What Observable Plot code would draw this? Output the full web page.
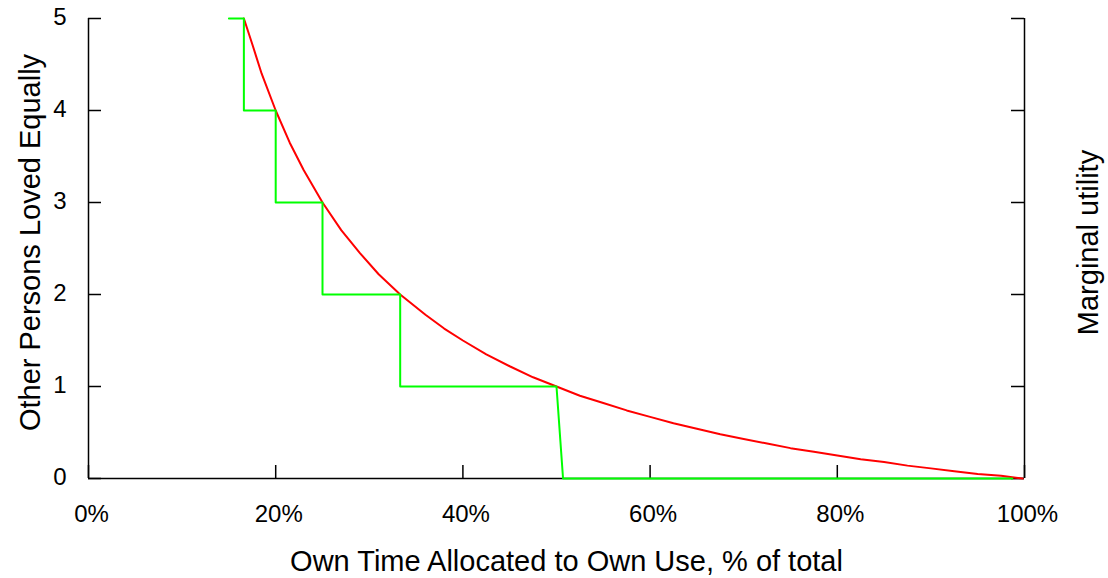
<!DOCTYPE html>
<html>
<head>
<meta charset="utf-8">
<script src="https://cdn.jsdelivr.net/npm/d3@7"></script>
<script src="https://cdn.jsdelivr.net/npm/@observablehq/plot@0.6"></script>
<style>
  html, body { margin: 0; padding: 0; background: #fff; }
</style>
</head>
<body>
<div id="chart"></div>
<script>
const xTicks = [0, 20, 40, 60, 80, 100];
const yTicks = [0, 1, 2, 3, 4, 5];

const redX = [16.6, 17.5, 18.5, 20.0, 21.5, 23.0, 25.0, 27.0, 29.0, 31.0, 33.3, 36.0, 38.0, 40.0, 42.5, 45.0, 47.5, 50.0, 52.5, 55.0, 57.5, 60.0, 62.5, 65.0, 67.5, 70.0, 72.5, 75.0, 77.5, 80.0, 82.5, 85.0, 87.5, 90.0, 92.5, 95.0, 97.5, 99.8];
const redY = [5.0, 4.72, 4.4, 4.0, 3.65, 3.35, 3.0, 2.7, 2.45, 2.22, 2.0, 1.78, 1.63, 1.5, 1.35, 1.22, 1.1, 1.0, 0.9, 0.82, 0.74, 0.67, 0.6, 0.54, 0.48, 0.43, 0.38, 0.33, 0.29, 0.25, 0.21, 0.18, 0.14, 0.11, 0.08, 0.05, 0.03, 0.0];

const greenX = [15, 16.6, 16.6, 20, 20, 25, 25, 33.3, 33.3, 50, 50.7, 98.7];
const greenY = [5, 5, 4, 4, 3, 3, 2, 2, 1, 1, 0, 0];

const xTitle = "Own Time Allocated to Own Use, % of total";
const yTitle = "Other Persons Loved Equally";
const y2Title = "Marginal utility";

const red = redX.map((x, i) => ({x, y: redY[i]}));
const green = greenX.map((x, i) => ({x, y: greenY[i]}));

const W = 1108, H = 578, ML = 88, MR = 84, MT = 18, MB = 100;
const FW = W - ML - MR, FH = H - MT - MB;
const TICK = 13;

const chart = Plot.plot({
  width: W,
  height: H,
  marginLeft: ML,
  marginRight: MR,
  marginTop: MT,
  marginBottom: MB,
  x: {domain: [0, 100], axis: null},
  y: {domain: [0, 5], axis: null},
  style: {fontFamily: "'Liberation Sans', Arial, Helvetica, sans-serif", background: "#fff", color: "#000"},
  marks: [
    Plot.ruleX([0, 100], {x: d => d, stroke: "#000", strokeWidth: 1.5}),
    Plot.ruleY([0], {y: d => d, stroke: "#000", strokeWidth: 1.5}),
    Plot.ruleX(xTicks, {x: d => d, insetTop: FH - TICK, stroke: "#000", strokeWidth: 1.5}),
    Plot.ruleY(yTicks, {y: d => d, insetRight: FW - TICK, stroke: "#000", strokeWidth: 1.5}),
    Plot.ruleY(yTicks, {y: d => d, insetLeft: FW - TICK, stroke: "#000", strokeWidth: 1.5}),
    Plot.line(red, {x: "x", y: "y", stroke: "#ff0000", strokeWidth: 2}),
    Plot.line(green, {x: "x", y: "y", stroke: "#00ff00", strokeWidth: 2}),
    Plot.text(xTicks, {x: d => d, frameAnchor: "bottom", lineAnchor: "middle", textAnchor: "middle", dy: 36, dx: 3, text: d => d + "%", fontSize: 24, fill: "#000"}),
    Plot.text(yTicks, {y: d => d, frameAnchor: "left", lineAnchor: "middle", textAnchor: "end", dx: -22, dy: -1, text: d => String(d), fontSize: 24, fill: "#000"}),
    Plot.text([xTitle], {frameAnchor: "bottom", lineAnchor: "middle", textAnchor: "middle", dy: 83, dx: 10, text: d => d, fontSize: 29, fill: "#000"}),
    Plot.text([yTitle], {frameAnchor: "left", lineAnchor: "middle", textAnchor: "middle", dx: -58, dy: -6, rotate: -90, text: d => d, fontSize: 29, fill: "#000"}),
    Plot.text([y2Title], {frameAnchor: "right", lineAnchor: "middle", textAnchor: "middle", dx: 64, dy: -6, rotate: -90, text: d => d, fontSize: 29, fill: "#000"})
  ]
});
document.getElementById("chart").appendChild(chart);
</script>
</body>
</html>
